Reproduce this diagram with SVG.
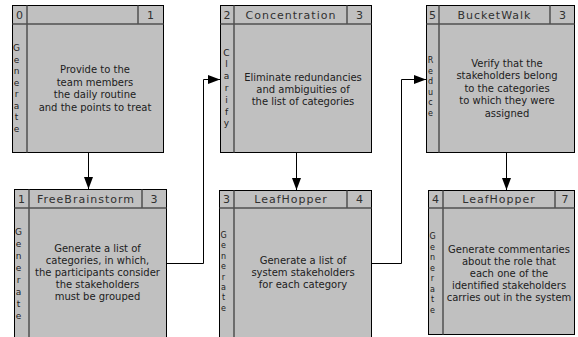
<svg xmlns="http://www.w3.org/2000/svg" width="578" height="337" viewBox="0 0 578 337">
<style>
.box{fill:#c0c0c0;stroke:#000;stroke-width:1}
.sep{stroke:#505050;stroke-width:1.5;fill:none}
.hd{font-family:"DejaVu Sans",Verdana,sans-serif;font-size:11px;letter-spacing:1px;fill:#303030;text-anchor:middle}
.num{font-family:"DejaVu Sans",Verdana,sans-serif;font-size:11px;fill:#303030;text-anchor:middle}
.body{font-family:"DejaVu Sans",Verdana,sans-serif;font-size:10px;fill:#202020;text-anchor:middle}
.vt{font-family:"DejaVu Sans",Verdana,sans-serif;font-size:9px;fill:#202020;text-anchor:middle}
.vs{font-family:"DejaVu Sans",Verdana,sans-serif;font-size:8px;fill:#202020;text-anchor:middle}
.conn{stroke:#000;stroke-width:1;fill:none}
</style>
<defs>
<marker id="ah" markerUnits="userSpaceOnUse" markerWidth="13" markerHeight="10" refX="12" refY="4.5" orient="auto">
<path d="M0,0 L12,4.5 L0,9 z" fill="#000"/>
</marker>
</defs>

<g id="node0">
<rect class="box" x="12.5" y="5.5" width="151" height="147"/>
<line class="sep" x1="12.5" y1="24" x2="163.5" y2="24"/>
<line class="sep" x1="27" y1="5.5" x2="27" y2="152.5"/>
<line class="sep" x1="138" y1="5.5" x2="138" y2="24"/>
<text class="num" x="19.5" y="18.5">0</text>
<text class="num" x="150.5" y="18.5">1</text>
<text class="vt"><tspan x="16.5" y="51">G</tspan><tspan x="16.5" y="62.5">e</tspan><tspan x="16.5" y="74">n</tspan><tspan x="16.5" y="85.5">e</tspan><tspan x="16.5" y="97">r</tspan><tspan x="16.5" y="108.5">a</tspan><tspan x="16.5" y="120">t</tspan><tspan x="16.5" y="131.5">e</tspan></text>
<text class="body"><tspan x="95" y="73">Provide to the</tspan><tspan x="95" y="85.5">team members</tspan><tspan x="95" y="98">the daily routine</tspan><tspan x="95" y="110.5">and the points to treat</tspan></text>
</g>

<g id="node1">
<rect class="box" x="14.5" y="189.5" width="152" height="150"/>
<line class="sep" x1="14.5" y1="208" x2="166.5" y2="208"/>
<line class="sep" x1="29" y1="189.5" x2="29" y2="339"/>
<line class="sep" x1="142" y1="189.5" x2="142" y2="208"/>
<text class="num" x="21.5" y="202.5">1</text>
<text class="hd" x="86" y="202.5">FreeBrainstorm</text>
<text class="num" x="154" y="202.5">3</text>
<text class="vt"><tspan x="18.5" y="235">G</tspan><tspan x="18.5" y="247">e</tspan><tspan x="18.5" y="259">n</tspan><tspan x="18.5" y="271">e</tspan><tspan x="18.5" y="283">r</tspan><tspan x="18.5" y="295">a</tspan><tspan x="18.5" y="307">t</tspan><tspan x="18.5" y="319">e</tspan></text>
<text class="body"><tspan x="97.5" y="252">Generate a list of</tspan><tspan x="97.5" y="264">categories, in which,</tspan><tspan x="97.5" y="276">the participants consider</tspan><tspan x="97.5" y="288">the stakeholders</tspan><tspan x="97.5" y="300">must be grouped</tspan></text>
</g>

<g id="node2">
<rect class="box" x="220.5" y="5.5" width="151" height="147"/>
<line class="sep" x1="220.5" y1="24" x2="371.5" y2="24"/>
<line class="sep" x1="234" y1="5.5" x2="234" y2="152.5"/>
<line class="sep" x1="347" y1="5.5" x2="347" y2="24"/>
<text class="num" x="227" y="18.5">2</text>
<text class="hd" x="291" y="18.5">Concentration</text>
<text class="num" x="359.5" y="18.5">3</text>
<text class="vt"><tspan x="226.5" y="55.5">C</tspan><tspan x="226.5" y="67.3">l</tspan><tspan x="226.5" y="79.1">a</tspan><tspan x="226.5" y="90.9">r</tspan><tspan x="226.5" y="102.7">i</tspan><tspan x="226.5" y="114.5">f</tspan><tspan x="226.5" y="126.3">y</tspan></text>
<text class="body"><tspan x="303" y="80.5">Eliminate redundancies</tspan><tspan x="303" y="92.5">and ambiguities of</tspan><tspan x="303" y="104.5">the list of categories</tspan></text>
</g>

<g id="node3">
<rect class="box" x="219.5" y="190.5" width="152" height="149"/>
<line class="sep" x1="219.5" y1="208" x2="371.5" y2="208"/>
<line class="sep" x1="234" y1="190.5" x2="234" y2="339"/>
<line class="sep" x1="347" y1="190.5" x2="347" y2="208"/>
<text class="num" x="226.5" y="203">3</text>
<text class="hd" x="291" y="203">LeafHopper</text>
<text class="num" x="359.5" y="203">4</text>
<text class="vs"><tspan x="223.5" y="238">G</tspan><tspan x="223.5" y="248.4">e</tspan><tspan x="223.5" y="258.8">n</tspan><tspan x="223.5" y="269.2">e</tspan><tspan x="223.5" y="279.6">r</tspan><tspan x="223.5" y="290">a</tspan><tspan x="223.5" y="300.4">t</tspan><tspan x="223.5" y="310.8">e</tspan></text>
<text class="body"><tspan x="303" y="264">Generate a list of</tspan><tspan x="303" y="276">system stakeholders</tspan><tspan x="303" y="288">for each category</tspan></text>
</g>

<g id="node4">
<rect class="box" x="426.5" y="5.5" width="148" height="147"/>
<line class="sep" x1="426.5" y1="24" x2="574.5" y2="24"/>
<line class="sep" x1="439" y1="5.5" x2="439" y2="152.5"/>
<line class="sep" x1="550" y1="5.5" x2="550" y2="24"/>
<text class="num" x="432.5" y="18.5">5</text>
<text class="hd" x="494.5" y="18.5">BucketWalk</text>
<text class="num" x="562.5" y="18.5">3</text>
<text class="vs"><tspan x="430.5" y="63">R</tspan><tspan x="430.5" y="73.6">e</tspan><tspan x="430.5" y="84.2">d</tspan><tspan x="430.5" y="94.8">u</tspan><tspan x="430.5" y="105.4">c</tspan><tspan x="430.5" y="116">e</tspan></text>
<text class="body"><tspan x="507" y="66.5">Verify that the</tspan><tspan x="507" y="79">stakeholders belong</tspan><tspan x="507" y="91.5">to the categories</tspan><tspan x="507" y="104">to which they were</tspan><tspan x="507" y="116.5">assigned</tspan></text>
</g>

<g id="node5">
<rect class="box" x="428.5" y="190.5" width="146" height="144"/>
<line class="sep" x1="428.5" y1="208" x2="574.5" y2="208"/>
<line class="sep" x1="443" y1="190.5" x2="443" y2="334.5"/>
<line class="sep" x1="555" y1="190.5" x2="555" y2="208"/>
<text class="num" x="435.5" y="203">4</text>
<text class="hd" x="499" y="203">LeafHopper</text>
<text class="num" x="565" y="203">7</text>
<text class="vs"><tspan x="432.5" y="239">G</tspan><tspan x="432.5" y="249.5">e</tspan><tspan x="432.5" y="260">n</tspan><tspan x="432.5" y="270.5">e</tspan><tspan x="432.5" y="281">r</tspan><tspan x="432.5" y="291.5">a</tspan><tspan x="432.5" y="302">t</tspan><tspan x="432.5" y="312.5">e</tspan></text>
<text class="body"><tspan x="509" y="252.5">Generate commentaries</tspan><tspan x="509" y="264.5">about the role that</tspan><tspan x="509" y="276.5">each one of the</tspan><tspan x="509" y="288.5">identified stakeholders</tspan><tspan x="509" y="300.5">carries out in the system</tspan></text>
</g>

<g id="connectors">
<path class="conn" d="M88.5,152.5 V189" marker-end="url(#ah)"/>
<path class="conn" d="M166.5,263.5 H203.5 V79.5 H220" marker-end="url(#ah)"/>
<path class="conn" d="M296.5,152.5 V190" marker-end="url(#ah)"/>
<path class="conn" d="M371.5,263.5 H401.5 V79.5 H426" marker-end="url(#ah)"/>
<path class="conn" d="M506.5,152.5 V190" marker-end="url(#ah)"/>
</g>
</svg>
